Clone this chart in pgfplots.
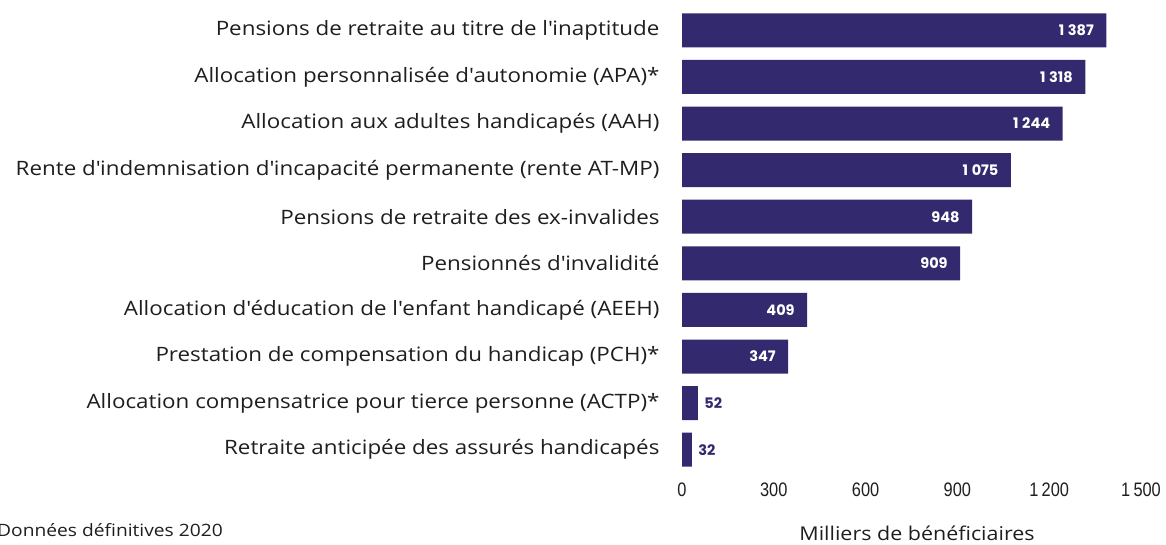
\documentclass[border=0pt]{standalone}
\usepackage{pgfplots}
\pgfplotsset{compat=1.18}
\usepackage{fontspec}
\setmainfont[FakeStretch=1.13]{Open Sans}
\newfontfamily\numfont[FakeStretch=0.84]{Liberation Sans}
\newfontfamily\valfont{Poppins}
\newcommand\ap{\textquotesingle}
\definecolor{barcol}{RGB}{50,41,110}
\definecolor{txt}{RGB}{30,30,30}
\begin{document}
\begin{tikzpicture}
\useasboundingbox (0,0) rectangle (1166pt,544pt);
\begin{axis}[
  at={(682pt,71pt)}, anchor=south west, scale only axis,
  width=459pt, height=466pt,
  xbar, bar width=34pt,
  xmin=0, xmax=1500, ymin=-0.5, ymax=9.5, y dir=reverse,
  axis line style={draw=none},
  major tick length=0pt,
  ytick={0,...,9},
  yticklabels={
    Pensions de retraite au titre de l\ap inaptitude,
    Allocation personnalisée d\ap autonomie (APA)*,
    Allocation aux adultes handicapés (AAH),
    Rente d\ap indemnisation d\ap incapacité permanente (rente AT-MP),
    Pensions de retraite des ex-invalides,
    Pensionnés d\ap invalidité,
    Allocation d\ap éducation de l\ap enfant handicapé (AEEH),
    Prestation de compensation du handicap (PCH)*,
    Allocation compensatrice pour tierce personne (ACTP)*,
    Retraite anticipée des assurés handicapés},
  yticklabel style={font=\fontsize{19.8}{21}\selectfont, text=txt, xshift=-19pt},
  xtick={0,300,600,900,1200,1500},
  xticklabels={0,300,600,900,1\,200,1\,500},
  xticklabel style={font=\numfont\fontsize{19.5}{20}\selectfont, text=txt, yshift=-6pt},
  point meta=explicit symbolic,
  nodes near coords,
]
\addplot[fill=barcol, draw=none, bar shift=0pt,
  every node near coord/.append style={anchor=east, xshift=-9pt, text=white, font=\valfont\bfseries\fontsize{14.5}{15}\selectfont}]
  coordinates {
    (1387,0) [1\hspace{0.25em}387]
    (1318,1) [1\hspace{0.25em}318]
    (1244,2) [1\hspace{0.25em}244]
    (1075,3) [1\hspace{0.25em}075]
    (948,4) [948]
    (909,5) [909]
    (409,6) [409]
    (347,7) [347]
  };
\addplot[fill=barcol, draw=none, bar shift=0pt,
  every node near coord/.append style={anchor=west, xshift=3pt, text=barcol, font=\valfont\bfseries\fontsize{14.5}{15}\selectfont}]
  coordinates {
    (52,8) [52]
    (32,9) [32]
  };
\end{axis}
\node[anchor=west, text=txt, font=\fontsize{17}{18}\selectfont, inner sep=0pt] at (-3pt,14pt) {Données définitives 2020};
\node[text=txt, font=\fontsize{19}{20}\selectfont, inner sep=0pt] at (917pt,11pt) {Milliers de bénéficiaires};
\end{tikzpicture}
\end{document}
